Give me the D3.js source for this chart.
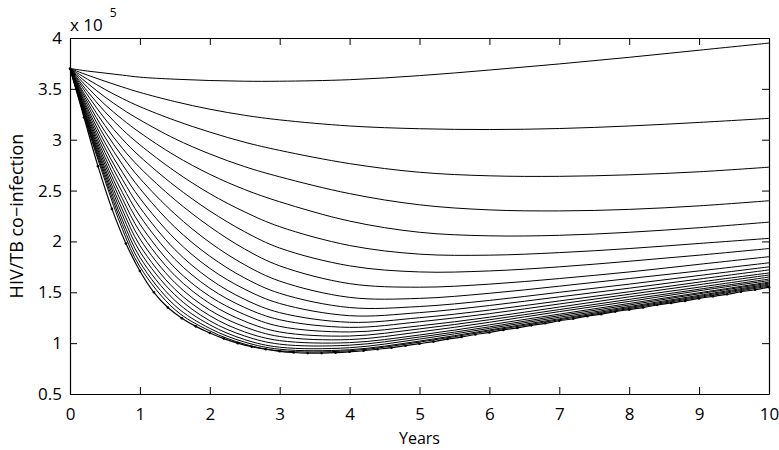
<!DOCTYPE html>
<html>
<head>
<meta charset="utf-8">
<script src="https://cdn.jsdelivr.net/npm/d3@7"></script>
<style>
  body { margin: 0; background: #fff; }
  text { font-family: "Open Sans", sans-serif; fill: #000; }
</style>
</head>
<body>
<svg id="coinfection-plot"></svg>
<script>
// values are in units of 10^5
const years = [0, 0.25, 0.5, 0.75, 1, 1.5, 2, 2.5, 3, 4, 5, 6, 7, 8, 9, 10];

const curves = [
  [3.70, 3.675, 3.655, 3.635, 3.615, 3.595, 3.582, 3.575, 3.575, 3.59, 3.63, 3.685, 3.745, 3.81, 3.88, 3.95],
  [3.70, 3.635, 3.575, 3.518, 3.465, 3.375, 3.30, 3.24, 3.195, 3.135, 3.108, 3.10, 3.11, 3.135, 3.17, 3.21],
  [3.70, 3.595, 3.495, 3.405, 3.325, 3.19, 3.075, 2.975, 2.895, 2.765, 2.68, 2.645, 2.64, 2.655, 2.685, 2.73],
  [3.70, 3.555, 3.42, 3.30, 3.195, 3.01, 2.86, 2.735, 2.635, 2.47, 2.36, 2.31, 2.30, 2.315, 2.35, 2.40],
  [3.70, 3.515, 3.345, 3.20, 3.07, 2.845, 2.66, 2.51, 2.39, 2.20, 2.09, 2.055, 2.06, 2.09, 2.135, 2.19],
  [3.70, 3.475, 3.275, 3.10, 2.95, 2.69, 2.47, 2.29, 2.145, 1.96, 1.875, 1.865, 1.89, 1.93, 1.98, 2.03],
  [3.70, 3.44, 3.205, 3.005, 2.835, 2.545, 2.30, 2.095, 1.935, 1.76, 1.70, 1.71, 1.75, 1.805, 1.865, 1.93],
  [3.70, 3.40, 3.14, 2.915, 2.725, 2.41, 2.145, 1.925, 1.76, 1.585, 1.55, 1.58, 1.635, 1.70, 1.775, 1.85],
  [3.70, 3.37, 3.08, 2.835, 2.62, 2.27, 1.99, 1.77, 1.61, 1.45, 1.44, 1.49, 1.56, 1.635, 1.71, 1.79],
  [3.70, 3.34, 3.025, 2.755, 2.52, 2.14, 1.855, 1.64, 1.49, 1.35, 1.36, 1.42, 1.50, 1.58, 1.665, 1.75],
  [3.70, 3.31, 2.97, 2.68, 2.425, 2.025, 1.735, 1.53, 1.39, 1.27, 1.30, 1.37, 1.455, 1.54, 1.63, 1.72],
  [3.70, 3.285, 2.92, 2.61, 2.335, 1.92, 1.63, 1.43, 1.30, 1.205, 1.25, 1.325, 1.415, 1.505, 1.60, 1.69],
  [3.70, 3.26, 2.875, 2.545, 2.25, 1.825, 1.54, 1.35, 1.23, 1.155, 1.21, 1.29, 1.385, 1.48, 1.575, 1.67],
  [3.70, 3.24, 2.83, 2.48, 2.17, 1.74, 1.46, 1.28, 1.165, 1.11, 1.17, 1.255, 1.355, 1.455, 1.55, 1.65],
  [3.70, 3.22, 2.79, 2.42, 2.095, 1.665, 1.39, 1.215, 1.11, 1.07, 1.14, 1.23, 1.33, 1.43, 1.53, 1.63],
  [3.70, 3.20, 2.755, 2.365, 2.025, 1.595, 1.325, 1.16, 1.065, 1.035, 1.11, 1.205, 1.31, 1.41, 1.515, 1.615],
  [3.70, 3.185, 2.72, 2.31, 1.96, 1.53, 1.27, 1.11, 1.025, 1.005, 1.08, 1.18, 1.285, 1.39, 1.495, 1.60],
  [3.70, 3.17, 2.69, 2.26, 1.90, 1.475, 1.22, 1.07, 0.99, 0.98, 1.06, 1.16, 1.27, 1.375, 1.485, 1.59],
  [3.70, 3.155, 2.66, 2.21, 1.845, 1.42, 1.18, 1.035, 0.96, 0.955, 1.04, 1.145, 1.255, 1.36, 1.47, 1.58],
  [3.70, 3.14, 2.63, 2.165, 1.795, 1.37, 1.145, 1.01, 0.94, 0.935, 1.02, 1.13, 1.24, 1.35, 1.46, 1.57],
  [3.70, 3.125, 2.60, 2.12, 1.75, 1.33, 1.12, 0.99, 0.925, 0.925, 1.01, 1.12, 1.23, 1.34, 1.45, 1.56]
];

// lowest curve, drawn with point markers
const markedYears = [0, 0.2, 0.4, 0.6, 0.8, 1, 1.2, 1.4, 1.6, 1.8, 2, 2.2, 2.4, 2.6, 2.8, 3, 3.2, 3.4, 3.6, 3.8,
  4, 4.2, 4.4, 4.6, 4.8, 5, 5.2, 5.4, 5.6, 5.8, 6, 6.2, 6.4, 6.6, 6.8, 7, 7.2, 7.4, 7.6, 7.8,
  8, 8.2, 8.4, 8.6, 8.8, 9, 9.2, 9.4, 9.6, 9.8, 10];
const markedValues = [3.70, 3.22, 2.74, 2.32, 1.98, 1.71, 1.50, 1.35, 1.245, 1.165, 1.10, 1.045, 1.00, 0.965, 0.94, 0.92, 0.908, 0.902, 0.902, 0.907,
  0.915, 0.925, 0.94, 0.955, 0.975, 0.995, 1.015, 1.04, 1.06, 1.085, 1.105, 1.13, 1.15, 1.175, 1.195, 1.22, 1.24, 1.265, 1.285, 1.31,
  1.33, 1.35, 1.375, 1.395, 1.415, 1.44, 1.46, 1.48, 1.505, 1.525, 1.55];

const xTicks = [0, 1, 2, 3, 4, 5, 6, 7, 8, 9, 10];
const yTicks = [0.5, 1, 1.5, 2, 2.5, 3, 3.5, 4];

const margin = { top: 38, right: 10, bottom: 56, left: 70 };
const width = 779 - margin.left - margin.right;
const height = 450 - margin.top - margin.bottom;

const svg = d3.select('#coinfection-plot')
  .attr('width', width + margin.left + margin.right)
  .attr('height', height + margin.top + margin.bottom);

const g = svg.append('g')
  .attr('transform', `translate(${margin.left},${margin.top})`);

const x = d3.scaleLinear().domain([0, 10]).range([0, width]);
const y = d3.scaleLinear().domain([0.5, 4]).range([height, 0]);

const line = d3.line()
  .x(d => x(d[0]))
  .y(d => y(d[1]))
  .curve(d3.curveCatmullRom.alpha(0.5));

g.selectAll('.curve')
  .data(curves)
  .enter().append('path')
  .attr('class', 'curve')
  .attr('d', vals => line(vals.map((v, i) => [years[i], v])))
  .attr('fill', 'none')
  .attr('stroke', '#000')
  .attr('stroke-width', 1);

const marked = markedValues.map((v, i) => [markedYears[i], v]);

g.append('path')
  .attr('d', line(marked))
  .attr('fill', 'none')
  .attr('stroke', '#000')
  .attr('stroke-width', 1.2);

g.selectAll('.dot')
  .data(marked)
  .enter().append('circle')
  .attr('class', 'dot')
  .attr('cx', d => x(d[0]))
  .attr('cy', d => y(d[1]))
  .attr('r', 1.3)
  .attr('fill', '#000');

// axes: ticks point inward on all four sides
const tickLen = 7;

const xAxis = g.append('g')
  .attr('transform', `translate(0,${height})`)
  .call(d3.axisBottom(x).tickValues(xTicks).tickSizeInner(-tickLen).tickSizeOuter(0).tickPadding(14).tickFormat(d3.format('d')));

const yAxis = g.append('g')
  .call(d3.axisLeft(y).tickValues(yTicks).tickSizeInner(-tickLen).tickSizeOuter(0).tickPadding(8).tickFormat(d => d));

g.append('g')
  .call(d3.axisTop(x).tickValues(xTicks).tickSizeInner(-tickLen).tickSizeOuter(0).tickFormat(''));

g.append('g')
  .attr('transform', `translate(${width},0)`)
  .call(d3.axisRight(y).tickValues(yTicks).tickSizeInner(-tickLen).tickSizeOuter(0).tickFormat(''));

g.selectAll('.domain').attr('stroke', '#000').attr('stroke-width', 1.2);
g.selectAll('.tick line').attr('stroke', '#000');
g.selectAll('.tick text').style('font-size', '17px').attr('fill', '#000');
xAxis.selectAll('.tick text').attr('dy', '0.71em');

// exponent label
const expo = svg.append('text')
  .attr('x', margin.left)
  .attr('y', 31)
  .style('font-size', '17px');
expo.append('tspan').text('x 10');
expo.append('tspan')
  .attr('dx', 7)
  .attr('dy', -14)
  .style('font-size', '12px')
  .text('5');

svg.append('text')
  .attr('x', margin.left + width / 2)
  .attr('y', 444)
  .attr('text-anchor', 'middle')
  .style('font-size', '16px')
  .text('Years');

svg.append('text')
  .attr('transform', `translate(23,${margin.top + height / 2}) rotate(-90)`)
  .attr('text-anchor', 'middle')
  .style('font-size', '18px')
  .text('HIV/TB co\u2212infection');
</script>
</body>
</html>
